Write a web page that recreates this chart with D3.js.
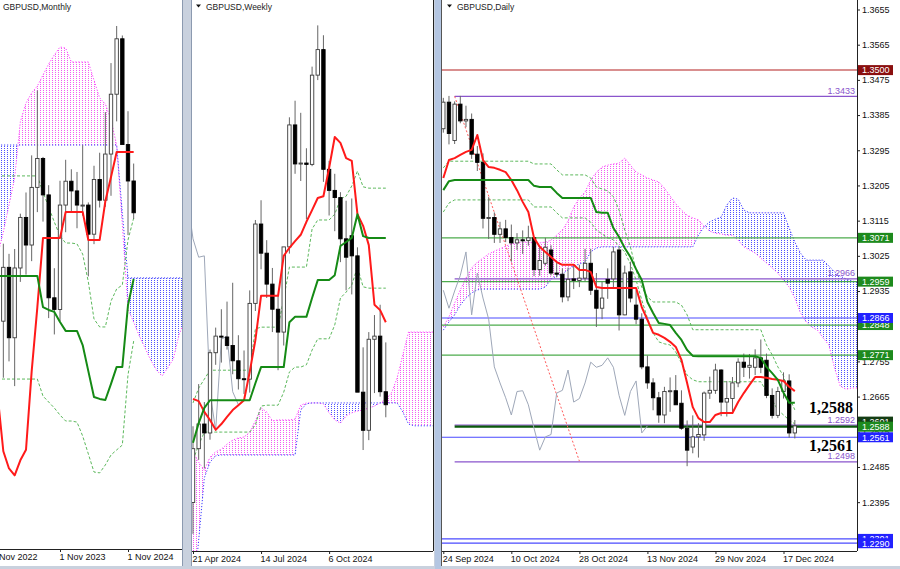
<!DOCTYPE html>
<html><head><meta charset="utf-8">
<script src="https://cdn.jsdelivr.net/npm/d3@7"></script>
<style>
html,body{margin:0;padding:0;background:#c9d1de;}
svg{display:block;}
</style></head><body>
<svg id="chart" width="900" height="569"></svg>
<script>
// ---------------- MONTHLY (index 0 = Nov 2022) ----------------
const monthlyTickLabels = ["1 Nov 2022","1 Nov 2023","1 Nov 2024"];
const monthlyTickIdx = [0,12,24];
const mOpen  = [1.1465,1.2050,1.2097,1.2341,1.2022,1.2338,1.2567,1.2442,1.2703,1.2834,1.2669,1.2203,1.2150,1.2623,1.2731,1.2687,1.2623,1.2623,1.2491,1.2739,1.2645,1.2854,1.3125,1.3376,1.2897,1.2732];
const mHigh  = [1.2154,1.2446,1.2448,1.2402,1.2424,1.2584,1.2680,1.2848,1.3142,1.2841,1.2713,1.2337,1.2733,1.2828,1.2785,1.2773,1.2894,1.2635,1.2801,1.2860,1.3044,1.3266,1.3434,1.3391,1.3048,1.2811];
const mLow   = [1.1142,1.1992,1.1841,1.1915,1.1803,1.2275,1.2308,1.2369,1.2591,1.2548,1.2111,1.2037,1.2096,1.2500,1.2596,1.2518,1.2575,1.2300,1.2446,1.2612,1.2615,1.2665,1.3002,1.2908,1.2487,1.2560];
const mClose = [1.2050,1.2097,1.2341,1.2022,1.2338,1.2567,1.2442,1.2703,1.2834,1.2669,1.2203,1.2150,1.2623,1.2731,1.2687,1.2623,1.2623,1.2491,1.2739,1.2645,1.2854,1.3125,1.3376,1.2897,1.2732,1.2588];
const mTenkan = [1.1825,1.1759,1.1508,1.1430,1.1399,1.1467,1.1515,1.1870,1.2160,1.2474,1.2474,1.2474,1.2474,1.2592,1.2592,1.2592,1.2592,1.2465,1.2465,1.2465,1.2640,1.2750,1.2863,1.2863,1.2863,1.2863];
const mKijun  = [1.2302,1.2302,1.2302,1.2302,1.2302,1.2302,1.2302,1.2302,1.2302,1.2161,1.2148,1.2139,1.2093,1.2053,1.2053,1.2053,1.1989,1.1871,1.1754,1.1745,1.1740,1.1813,1.1890,1.1890,1.2170,1.2288];
const mUpper  = [1.2755,1.2755,1.2755,1.2755,1.2755,1.2755,1.2755,1.2755,1.2755,1.2682,1.2614,1.2546,1.2483,1.2451,1.2451,1.2447,1.2401,1.2275,1.2107,1.2071,1.2071,1.2188,1.2243,1.2261,1.2465,1.2564];
const mLower  = [1.1835,1.1835,1.1835,1.1835,1.1835,1.1835,1.1835,1.1835,1.1835,1.1758,1.1731,1.1704,1.1672,1.1645,1.1645,1.1640,1.1577,1.1496,1.1414,1.1410,1.1446,1.1491,1.1514,1.1536,1.1854,1.2007];
const mSpanA  = [1.2261,1.2397,1.2501,1.2623,1.2746,1.3000,1.3085,1.3131,1.3162,1.3212,1.3262,1.3303,1.3339,1.3334,1.3271,1.3271,1.3271,1.3271,1.3189,1.3108,1.3081,1.3008,1.2895,1.2533,1.2152,1.2093,1.2030,1.1976,1.1921,1.1876,1.1849,1.1885,1.1926,1.2035,1.2102];
const mSpanB  = [1.2895,1.2895,1.2895,1.2895,1.2895,1.2895,1.2895,1.2895,1.2895,1.2895,1.2895,1.2895,1.2895,1.2895,1.2895,1.2895,1.2895,1.2895,1.2895,1.2895,1.2895,1.2895,1.2895,1.2588,1.2293,1.2293,1.2293,1.2293,1.2293,1.2293,1.2293,1.2293,1.2293,1.2293,1.2293];

// ---------------- WEEKLY (index 0 = week of 21 Apr 2024) ----------------
const weeklyTickLabels = ["21 Apr 2024","14 Jul 2024","6 Oct 2024"];
const weeklyTickIdx = [0,12,24];
const wOpen  = [1.2370,1.2490,1.2545,1.2525,1.2704,1.2741,1.2739,1.2720,1.2686,1.2646,1.2645,1.2814,1.2991,1.2926,1.2857,1.2801,1.2750,1.2940,1.3212,1.3125,1.3127,1.3124,1.3323,1.3380,1.3113,1.3066,1.3050,1.2958,1.2965,1.2920,1.2616,1.2531,1.2734,1.2741,1.2617];
const wHigh  = [1.2540,1.2634,1.2594,1.2711,1.2760,1.2801,1.2818,1.2860,1.2743,1.2709,1.2843,1.3000,1.3044,1.2955,1.2893,1.2833,1.2900,1.3229,1.3266,1.3239,1.3160,1.3342,1.3434,1.3412,1.3132,1.3103,1.3062,1.3043,1.3048,1.2939,1.2716,1.2750,1.2788,1.2811,1.2727];
const wLow   = [1.2300,1.2465,1.2446,1.2510,1.2677,1.2682,1.2711,1.2656,1.2622,1.2612,1.2615,1.2797,1.2890,1.2826,1.2750,1.2665,1.2720,1.2925,1.3103,1.3087,1.3002,1.3120,1.3312,1.3085,1.3010,1.2975,1.2906,1.2843,1.2834,1.2630,1.2487,1.2509,1.2614,1.2606,1.2560];
const wClose = [1.2490,1.2545,1.2525,1.2704,1.2741,1.2739,1.2720,1.2686,1.2646,1.2645,1.2814,1.2991,1.2926,1.2857,1.2801,1.2750,1.2940,1.3212,1.3125,1.3127,1.3124,1.3323,1.3380,1.3113,1.3066,1.3050,1.2958,1.2917,1.2920,1.2616,1.2531,1.2734,1.2741,1.2617,1.2588];
const wTenkan = [1.2601,1.2596,1.2572,1.2554,1.2532,1.2545,1.2561,1.2576,1.2587,1.2598,1.2661,1.2732,1.2831,1.2831,1.2831,1.2831,1.2920,1.2938,1.2953,1.2967,1.2996,1.3022,1.3049,1.3053,1.3116,1.3185,1.3172,1.3138,1.3132,1.3013,1.2987,1.2944,1.2811,1.2799,1.2772];
const wKijun  = [1.2503,1.2547,1.2581,1.2598,1.2598,1.2598,1.2598,1.2598,1.2598,1.2598,1.2598,1.2636,1.2672,1.2672,1.2672,1.2672,1.2672,1.2772,1.2784,1.2784,1.2784,1.2826,1.2866,1.2866,1.2866,1.2877,1.2942,1.2951,1.2960,1.3013,1.2964,1.2960,1.2960,1.2960,1.2960];
const wUpper  = [1.2592,1.2625,1.2645,1.2665,1.2665,1.2665,1.2665,1.2665,1.2665,1.2665,1.2665,1.2757,1.2761,1.2761,1.2761,1.2761,1.2824,1.2895,1.2895,1.2895,1.2895,1.2980,1.3000,1.3000,1.3000,1.3013,1.3047,1.3053,1.3076,1.3109,1.3074,1.3071,1.3071,1.3071,1.3071];
const wLower  = [1.2465,1.2498,1.2527,1.2527,1.2527,1.2527,1.2527,1.2527,1.2527,1.2527,1.2527,1.2543,1.2585,1.2587,1.2587,1.2587,1.2616,1.2661,1.2672,1.2672,1.2677,1.2710,1.2735,1.2735,1.2735,1.2766,1.2826,1.2839,1.2855,1.2895,1.2851,1.2848,1.2848,1.2848,1.2848];
const wChikou = [1.3050,1.2958,1.2917,1.2920,1.2616,1.2531,1.2734,1.2741,1.2617,1.2588]; // from index -1
const wSpanA  = [1.2242,1.2483,1.2460,1.2442,1.2471,1.2483,1.2489,1.2500,1.2509,1.2514,1.2516,1.2527,1.2552,1.2581,1.2572,1.2552,1.2554,1.2554,1.2554,1.2556,1.2587,1.2592,1.2592,1.2592,1.2590,1.2570,1.2554,1.2547,1.2563,1.2570,1.2574,1.2576,1.2581,1.2585,1.2592,1.2601,1.2614,1.2648,1.2699,1.2750,1.2750,1.2750,1.2750,1.2750,1.2750]; // from index -1
const wSpanB  = [1.2108,1.2152,1.2286,1.2425,1.2460,1.2474,1.2476,1.2476,1.2476,1.2476,1.2476,1.2476,1.2476,1.2476,1.2476,1.2476,1.2476,1.2476,1.2476,1.2476,1.2576,1.2590,1.2592,1.2592,1.2592,1.2592,1.2592,1.2592,1.2592,1.2592,1.2592,1.2592,1.2592,1.2592,1.2592,1.2592,1.2592,1.2592,1.2572,1.2545,1.2541,1.2541,1.2541,1.2541,1.2541]; // from index -1

// ---------------- DAILY (index 0 = 24 Sep 2024) ----------------
const dailyTickLabels = ["24 Sep 2024","10 Oct 2024","28 Oct 2024","13 Nov 2024","29 Nov 2024","17 Dec 2024"];
const dailyTickIdx = [0,12,24,36,48,60];
const dOpen  = [1.3350,1.3418,1.3320,1.3413,1.3370,1.3374,1.3285,1.3264,1.3121,1.3123,1.3080,1.3094,1.3072,1.3058,1.3066,1.3064,1.3071,1.2990,1.3006,1.3040,1.2981,1.2978,1.2920,1.2966,1.2962,1.2968,1.3006,1.2937,1.2891,1.2965,1.2966,1.3040,1.2874,1.2984,1.2899,1.2863,1.2741,1.2700,1.2662,1.2618,1.2678,1.2680,1.2648,1.2584,1.2536,1.2562,1.2567,1.2674,1.2681,1.2733,1.2651,1.2660,1.2700,1.2753,1.2740,1.2740,1.2764,1.2758,1.2668,1.2617,1.2678,1.2705,1.2572];
const dHigh  = [1.3429,1.3434,1.3420,1.3434,1.3409,1.3389,1.3306,1.3287,1.3175,1.3136,1.3112,1.3117,1.3105,1.3083,1.3090,1.3102,1.3073,1.3051,1.3071,1.3052,1.3011,1.2993,1.2995,1.3001,1.3002,1.3043,1.3043,1.2981,1.2959,1.2993,1.3048,1.3048,1.3000,1.3010,1.2937,1.2878,1.2770,1.2712,1.2677,1.2690,1.2714,1.2720,1.2681,1.2604,1.2617,1.2597,1.2678,1.2716,1.2749,1.2735,1.2705,1.2715,1.2763,1.2775,1.2774,1.2786,1.2811,1.2775,1.2686,1.2690,1.2727,1.2722,1.2605];
const dLow   = [1.3340,1.3310,1.3311,1.3364,1.3354,1.3273,1.3242,1.3095,1.3068,1.3058,1.3058,1.3060,1.3010,1.3040,1.3030,1.3051,1.2973,1.2974,1.3000,1.2975,1.2970,1.2906,1.2909,1.2940,1.2945,1.2960,1.2925,1.2843,1.2863,1.2915,1.2945,1.2834,1.2873,1.2906,1.2850,1.2735,1.2685,1.2630,1.2598,1.2597,1.2626,1.2644,1.2580,1.2487,1.2520,1.2509,1.2552,1.2659,1.2672,1.2615,1.2614,1.2627,1.2689,1.2715,1.2711,1.2720,1.2725,1.2661,1.2609,1.2610,1.2660,1.2560,1.2558];
const dClose = [1.3418,1.3338,1.3413,1.3370,1.3374,1.3285,1.3264,1.3121,1.3123,1.3080,1.3094,1.3072,1.3058,1.3066,1.3064,1.3071,1.2990,1.3013,1.3047,1.2981,1.2978,1.2920,1.2965,1.2962,1.2968,1.3006,1.2937,1.2891,1.2917,1.2955,1.3035,1.2874,1.2981,1.2917,1.2863,1.2741,1.2700,1.2662,1.2618,1.2678,1.2680,1.2644,1.2584,1.2528,1.2562,1.2568,1.2674,1.2681,1.2733,1.2651,1.2660,1.2700,1.2753,1.2740,1.2745,1.2764,1.2740,1.2668,1.2617,1.2678,1.2705,1.2572,1.2590];
const dTenkan = [1.3224,1.3270,1.3275,1.3283,1.3291,1.3296,1.3334,1.3270,1.3252,1.3250,1.3245,1.3239,1.3219,1.3193,1.3163,1.3137,1.3071,1.3048,1.3035,1.3022,1.3009,1.3002,1.3002,1.3002,1.2989,1.2989,1.2984,1.2945,1.2943,1.2943,1.2943,1.2943,1.2943,1.2943,1.2943,1.2894,1.2861,1.2828,1.2823,1.2815,1.2805,1.2792,1.2759,1.2700,1.2638,1.2610,1.2600,1.2600,1.2618,1.2623,1.2623,1.2623,1.2651,1.2674,1.2695,1.2715,1.2715,1.2713,1.2710,1.2708,1.2705,1.2690,1.2679];
const dKijun  = [1.3193,1.3216,1.3219,1.3219,1.3219,1.3219,1.3219,1.3219,1.3219,1.3219,1.3219,1.3219,1.3219,1.3219,1.3219,1.3219,1.3204,1.3201,1.3201,1.3201,1.3186,1.3173,1.3173,1.3173,1.3173,1.3173,1.3173,1.3137,1.3135,1.3135,1.3096,1.3073,1.3045,1.3022,1.2991,1.2963,1.2907,1.2879,1.2853,1.2851,1.2848,1.2828,1.2810,1.2784,1.2769,1.2768,1.2768,1.2768,1.2768,1.2768,1.2768,1.2768,1.2768,1.2768,1.2768,1.2768,1.2764,1.2741,1.2725,1.2708,1.2675,1.2649,1.2649];
const dUpper  = [1.3250,1.3267,1.3267,1.3267,1.3267,1.3267,1.3267,1.3267,1.3267,1.3267,1.3267,1.3267,1.3267,1.3267,1.3267,1.3267,1.3260,1.3260,1.3260,1.3260,1.3245,1.3232,1.3232,1.3232,1.3232,1.3232,1.3224,1.3201,1.3196,1.3191,1.3176,1.3142,1.3091,1.3048,1.2989,1.2945,1.2920,1.2907,1.2907,1.2907,1.2907,1.2907,1.2899,1.2874,1.2836,1.2836,1.2836,1.2836,1.2836,1.2836,1.2836,1.2836,1.2836,1.2836,1.2836,1.2836,1.2836,1.2797,1.2772,1.2741,1.2718,1.2664,1.2631];
const dLower  = [1.3137,1.3160,1.3168,1.3168,1.3168,1.3168,1.3168,1.3168,1.3168,1.3168,1.3168,1.3168,1.3168,1.3168,1.3168,1.3168,1.3150,1.3150,1.3150,1.3150,1.3135,1.3122,1.3122,1.3122,1.3122,1.3122,1.3111,1.3091,1.3081,1.3071,1.3066,1.3050,1.3035,1.3004,1.2963,1.2912,1.2866,1.2828,1.2805,1.2800,1.2797,1.2779,1.2751,1.2720,1.2708,1.2703,1.2703,1.2703,1.2703,1.2703,1.2703,1.2703,1.2703,1.2703,1.2703,1.2703,1.2703,1.2677,1.2656,1.2631,1.2618,1.2605,1.2595];
const dChikou = [1.2937,1.2891,1.2935,1.2975,1.3035,1.2874,1.2981,1.2917,1.2863,1.2741,1.2700,1.2662,1.2618,1.2678,1.2680,1.2644,1.2584,1.2528,1.2562,1.2568,1.2674,1.2681,1.2733,1.2651,1.2660,1.2700,1.2753,1.2740,1.2745,1.2764,1.2740,1.2668,1.2617,1.2678,1.2705,1.2572,1.2590];
const dSpanA  = [1.2843,1.2869,1.2904,1.2938,1.2968,1.2994,1.3009,1.3019,1.3030,1.3037,1.3043,1.3050,1.3055,1.3058,1.3060,1.3060,1.3058,1.3058,1.3060,1.3065,1.3078,1.3091,1.3114,1.3150,1.3173,1.3188,1.3219,1.3239,1.3252,1.3257,1.3260,1.3262,1.3275,1.3257,1.3239,1.3232,1.3224,1.3219,1.3214,1.3198,1.3178,1.3158,1.3142,1.3129,1.3122,1.3117,1.3101,1.3088,1.3083,1.3081,1.3078,1.3078,1.3065,1.3048,1.3040,1.3032,1.3019,1.3007,1.2994,1.2981,1.2963,1.2945,1.2917,1.2879,1.2856,1.2843,1.2835,1.2815,1.2797,1.2738,1.2692,1.2684,1.2687,1.2687];
const dSpanB  = [1.2835,1.2856,1.2874,1.2899,1.2917,1.2930,1.2938,1.2940,1.2940,1.2940,1.2940,1.2940,1.2940,1.2940,1.2940,1.2940,1.2940,1.2940,1.2945,1.2966,1.2973,1.2979,1.2989,1.2999,1.3004,1.3009,1.3035,1.3045,1.3048,1.3048,1.3048,1.3048,1.3048,1.3048,1.3048,1.3048,1.3048,1.3048,1.3048,1.3048,1.3048,1.3048,1.3048,1.3048,1.3048,1.3078,1.3099,1.3112,1.3119,1.3124,1.3155,1.3173,1.3170,1.3142,1.3135,1.3135,1.3135,1.3135,1.3135,1.3135,1.3135,1.3096,1.3060,1.3032,1.3014,1.3014,1.3014,1.3014,1.2999,1.2984,1.2973,1.2966,1.2961,1.2958];
const dTrendIdx = [2, 24];
const dTrendPrice = [1.3433, 1.2500];
const dPriceTicks = [1.3655,1.3565,1.3475,1.3385,1.3295,1.3205,1.3115,1.3025,1.2935,1.2845,1.2755,1.2665,1.2575,1.2485,1.2395,1.2305];
const levelValues = [1.3500,1.3433,1.3071,1.2966,1.2959,1.2866,1.2848,1.2771,1.2592,1.2588,1.2561,1.2498,1.2301,1.2290];
const hiddenAxisTag = [1.2601];
const bigNotes = ["1,2588","1,2561"];
const bigNotePrices = [1.2588, 1.2561];

// ---------------- DRAWING ----------------
const svg = d3.select("#chart");
const defs = svg.append("defs");
const FONT = "'Liberation Sans', Arial, sans-serif";
function hatch(id, color){
  const p = defs.append("pattern").attr("id",id).attr("width",3).attr("height",2).attr("patternUnits","userSpaceOnUse");
  p.append("rect").attr("x",1).attr("y",0).attr("width",1).attr("height",1).attr("fill",color);
}
hatch("hPink","#f25af2");
hatch("hBlue","#5050ff");

// window background + white panels
svg.append("rect").attr("width",900).attr("height",569).attr("fill","#c9d1de");
[[0,183],[192,434],[441,900]].forEach(([a,b])=>{
  svg.append("rect").attr("x",a).attr("y",0).attr("width",b-a).attr("height",566).attr("fill","#ffffff");
});
svg.append("rect").attr("x",435).attr("y",0).attr("width",6).attr("height",569).attr("fill","#b4c6e2");

const C = {
  pinkLine:"#ff40ff", blueLine:"#3c3cff", tenkan:"#ff1a1a", kijun:"#158a15",
  dashed:"#5cb85c", chikou:"#9ea7b8", candleOutline:"#3a3a3a", wick:"#666"
};

function drawSeries(g, xs, ys, vals, start, color, width, dash){
  const line = d3.line().x((d,k)=>xs(start+k)).y(d=>ys(d));
  g.append("path").attr("d", line(vals)).attr("fill","none")
    .attr("stroke", color).attr("stroke-width", width)
    .attr("stroke-dasharray", dash || null).attr("stroke-linejoin","round");
}

function panel(P){
  const id = P.id;
  defs.append("clipPath").attr("id","clip-"+id).append("rect")
    .attr("x",P.left).attr("y",0).attr("width",P.right-P.left).attr("height",P.bottom);
  const g = svg.append("g").attr("clip-path",`url(#clip-${id})`);
  const xs = P.xs, ys = P.ys;
  // cloud
  const cl = P.spanA.map((a,k)=>({i:P.cloudStart+k, a:a, b:P.spanB[k]}));
  const area = d3.area().x(d=>xs(d.i)).y0(d=>ys(d.a)).y1(d=>ys(d.b));
  const above = d3.area().x(d=>xs(d.i)).y0(-20).y1(d=>ys(d.b));
  const below = d3.area().x(d=>xs(d.i)).y0(d=>ys(d.b)).y1(P.bottom+20);
  defs.append("clipPath").attr("id","ca-"+id).append("path").attr("d",above(cl));
  defs.append("clipPath").attr("id","cb-"+id).append("path").attr("d",below(cl));
  g.append("path").attr("d",area(cl)).attr("fill","url(#hPink)").attr("clip-path",`url(#ca-${id})`);
  g.append("path").attr("d",area(cl)).attr("fill","url(#hBlue)").attr("clip-path",`url(#cb-${id})`);
  drawSeries(g, xs, ys, P.spanA, P.cloudStart, C.pinkLine, 1, "1.2,1.8");
  drawSeries(g, xs, ys, P.spanB, P.cloudStart, C.blueLine, 1, "1.2,1.8");
  if (P.levels) P.levels(g);
  drawSeries(g, xs, ys, P.upper, 0, C.dashed, 1, "3,2");
  drawSeries(g, xs, ys, P.lower, 0, C.dashed, 1, "3,2");
  if (P.chikou) drawSeries(g, xs, ys, P.chikou, P.chikouStart, C.chikou, 1);
  // candles
  const cg = g.append("g");
  P.open.forEach((o,k)=>{
    const c = P.close[k], cx = xs(k);
    cg.append("line").attr("x1",cx).attr("x2",cx).attr("y1",ys(P.high[k])).attr("y2",ys(P.low[k]))
      .attr("stroke",C.wick).attr("stroke-width",1);
    const top = ys(Math.max(o,c)), bot = ys(Math.min(o,c));
    const bull = c >= o;
    cg.append("rect").attr("x",cx-1.7).attr("width",3.4)
      .attr("y",top).attr("height",Math.max(1,bot-top))
      .attr("fill", bull ? "#ffffff" : "#000000")
      .attr("stroke", bull ? C.candleOutline : "#000").attr("stroke-width",0.9);
  });
  drawSeries(g, xs, ys, P.tenkan, 0, C.tenkan, 2);
  drawSeries(g, xs, ys, P.kijun, 0, C.kijun, 2);
  if (P.after) P.after(g);
  // bottom axis
  svg.append("line").attr("x1",P.left).attr("x2",P.right).attr("y1",P.bottom+0.5).attr("y2",P.bottom+0.5)
    .attr("stroke","#222").attr("stroke-width",1);
  const ax = svg.append("g").attr("transform",`translate(0,${P.bottom})`)
    .call(d3.axisBottom(xs).tickValues(P.tickIdx).tickFormat((d,i)=>P.tickLabels[i]).tickSize(3).tickSizeOuter(0));
  ax.select(".domain").remove();
  ax.selectAll("line").attr("stroke","#222");
  ax.selectAll("text").attr("text-anchor","start").attr("x",-1).attr("y",5)
    .attr("font-family",FONT).attr("font-size",9).attr("fill","#111");
  return g;
}

// ---- Monthly ----
const mX = d3.scaleLinear().domain([0,24]).range([-8,128]);
const mY = d3.scaleLinear().domain([1.10653,1.35517]).range([549,0]);
panel({id:"m", left:0, right:182, bottom:549, xs:mX, ys:mY,
  open:mOpen, high:mHigh, low:mLow, close:mClose, tenkan:mTenkan, kijun:mKijun,
  upper:mUpper, lower:mLower, spanA:mSpanA, spanB:mSpanB, cloudStart:0,
  tickIdx:monthlyTickIdx, tickLabels:monthlyTickLabels});

// ---- Weekly ----
const wX = d3.scaleLinear().domain([0,34]).range([193,385.8]);
const wY = d3.scaleLinear().domain([1.22618,1.34906]).range([551,0]);
panel({id:"w", left:192, right:433, bottom:551, xs:wX, ys:wY,
  open:wOpen, high:wHigh, low:wLow, close:wClose, tenkan:wTenkan, kijun:wKijun,
  upper:wUpper, lower:wLower, chikou:wChikou, chikouStart:-1, spanA:wSpanA, spanB:wSpanB, cloudStart:-1,
  tickIdx:weeklyTickIdx, tickLabels:weeklyTickLabels});

// ---- Daily ----
const dX = d3.scaleLinear().domain([0,60]).range([443.3,783.5]);
const dY = d3.scaleLinear().domain([1.22701,1.36793]).range([551,0]);
const LV = { // style per level (same order as levelValues)
  kinds:["red","purple","green","purple","green","blue","green","green","purple","dkgreen","blue","purple","blue","blue"]
};
const kindColor = {red:"#cc6a6a", purple:"#8a55cc", green:"#4cab4c", blue:"#4a4aff", dkgreen:"#0b5a0b"};
const boxColor = {red:"#8a0f0f", green:"#1d8a1d", blue:"#2222ff", dkgreen:"#1d8a1d"};
panel({id:"d", left:442, right:857, bottom:551, xs:dX, ys:dY,
  open:dOpen, high:dHigh, low:dLow, close:dClose, tenkan:dTenkan, kijun:dKijun,
  upper:dUpper, lower:dLower, chikou:dChikou, chikouStart:0, spanA:dSpanA, spanB:dSpanB, cloudStart:0,
  tickIdx:dailyTickIdx, tickLabels:dailyTickLabels,
  levels: g => {
    levelValues.forEach((v,k)=>{
      const kind = LV.kinds[k];
      const startX = (kind==="purple" || kind==="dkgreen") ? dX(2) : 442;
      g.append("line").attr("x1",startX).attr("x2",857).attr("y1",dY(v)).attr("y2",dY(v))
        .attr("stroke",kindColor[kind]).attr("stroke-width", kind==="dkgreen"?2.2:(kind==="red"?1.5:1.2));
    });
    g.append("line").attr("x1",dX(dTrendIdx[0])).attr("y1",dY(dTrendPrice[0]))
      .attr("x2",dX(dTrendIdx[1])).attr("y2",dY(dTrendPrice[1]))
      .attr("stroke","#ff5a5a").attr("stroke-width",1).attr("stroke-dasharray","2,2");
  },
  after: g => {
    levelValues.forEach((v,k)=>{
      if (LV.kinds[k]!=="purple") return;
      g.append("text").attr("x",855).attr("y",dY(v)-2.5).attr("text-anchor","end")
        .attr("font-family",FONT).attr("font-size",9).attr("fill","#8a55cc").text(d3.format(".4f")(v));
    });
    bigNotes.forEach((t,k)=>{
      g.append("text").attr("x",853).attr("y",dY(bigNotePrices[k]) + (k===0?-14:13.5)).attr("text-anchor","end")
        .attr("font-family","'Liberation Serif','Times New Roman',serif").attr("font-weight","bold")
        .attr("font-size",16).attr("fill","#000").text(t);
    });
  }
});

// daily price axis
svg.append("line").attr("x1",857.5).attr("x2",857.5).attr("y1",0).attr("y2",551).attr("stroke","#222");
const pa = svg.append("g").attr("transform","translate(857,0)")
  .call(d3.axisRight(dY).tickValues(dPriceTicks).tickFormat(d3.format(".4f")).tickSize(3).tickSizeOuter(0));
pa.select(".domain").remove();
pa.selectAll("line").attr("stroke","#222");
pa.selectAll("text").attr("x",5).attr("font-family",FONT).attr("font-size",9).attr("fill","#111");

function axisTag(v, color){
  const y = dY(v);
  svg.append("rect").attr("x",858).attr("y",y-5).attr("width",35).attr("height",10).attr("fill",color);
  svg.append("text").attr("x",862).attr("y",y+3.3).attr("font-family",FONT).attr("font-size",9)
    .attr("fill","#fff").text(d3.format(".4f")(v));
}
hiddenAxisTag.forEach(v=>axisTag(v,"#143d14"));
[0,2,4,6,5,7,9,10,12,13].forEach(k=>axisTag(levelValues[k], boxColor[LV.kinds[k]]));

// panel borders
svg.append("line").attr("x1",182.5).attr("x2",182.5).attr("y1",0).attr("y2",566).attr("stroke","#8c9ab0");
svg.append("line").attr("x1",433.5).attr("x2",433.5).attr("y1",0).attr("y2",551).attr("stroke","#222");
svg.append("line").attr("x1",191.5).attr("x2",191.5).attr("y1",0).attr("y2",566).attr("stroke","#8c9ab0");
svg.append("line").attr("x1",441.5).attr("x2",441.5).attr("y1",0).attr("y2",566).attr("stroke","#555");

// titles
function title(x, txt, tri){
  if (tri) svg.append("path").attr("d",`M${x-10},4.5 L${x-5},4.5 L${x-7.5},7.5 Z`).attr("fill","#111");
  svg.append("text").attr("x",x).attr("y",10).attr("font-family",FONT).attr("font-size",8.5)
    .attr("fill","#222").text(txt);
}
title(3,"GBPUSD,Monthly",false);
title(206,"GBPUSD,Weekly",true);
title(457,"GBPUSD,Daily",true);
</script>
</body></html>
